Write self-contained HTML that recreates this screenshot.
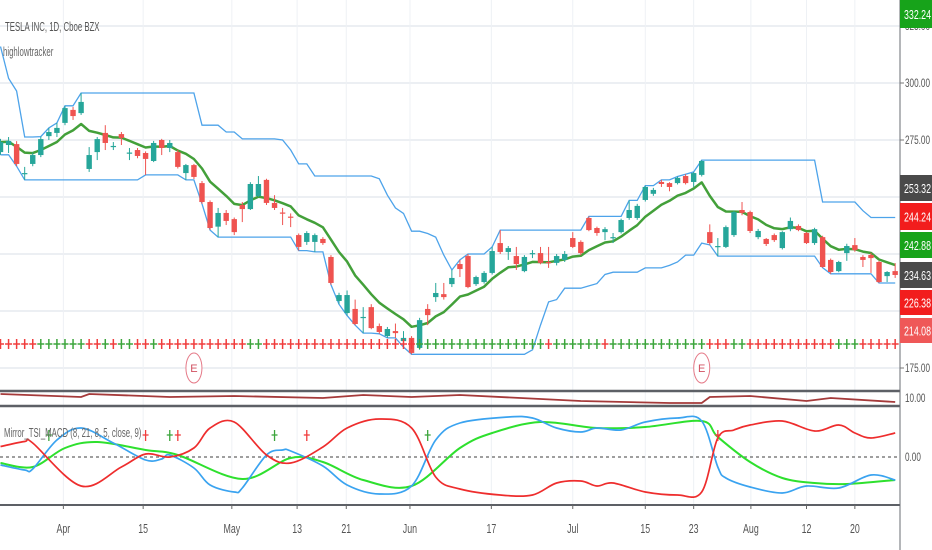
<!DOCTYPE html>
<html><head><meta charset="utf-8"><style>
html,body{margin:0;padding:0;background:#fff;}
svg{display:block;font-family:"Liberation Sans",sans-serif;}
</style></head><body>
<svg id="chart" width="932" height="550" viewBox="0 0 932 550" xmlns="http://www.w3.org/2000/svg">
<g id="grid"></g>
<g id="main"></g>
<g id="sub"></g>
<g id="macd"></g>
<g id="axis"></g>
<text class="ttl" x="5" y="31" font-size="13" fill="#555">TESLA INC, 1D, Cboe BZX</text>
<text class="ttl" x="3" y="56" font-size="13" fill="#666">highlowtracker</text>
<text class="ttl" x="4" y="437" font-size="13" fill="#666">Mirror_TSI_MACD (8, 21, 8, 5, close, 9)</text>
</svg>
<script>
const opens=[269.7,272.8,273.2,260.1,264.5,268.4,276.7,278.1,282.5,288.2,286.8,262.3,269.7,278.1,271.9,277.6,269.1,270.6,269.3,265.8,275,271.5,269.7,260.5,264,256.1,247.8,237,243,240.3,246.5,244.7,250.4,257.5,247.4,243.2,241.4,233.3,230.3,230.3,231.6,223.7,204.4,199.1,200.9,196.9,201.7,193.4,189,191.2,186.8,188.2,183.8,200.9,206.1,207.4,211.8,220.6,224.1,211.8,212.7,216.7,229.8,225.9,224.1,217.5,225,225.4,221.5,221.1,222.4,232,230.3,240.8,236.4,234.6,232,234.6,240.8,240.8,248.7,251.4,256.6,256.1,256.1,259.2,256.6,259.7,234.6,228.1,228.1,233.3,244.3,243.4,232.4,231.6,233.3,227.6,235.9,237.3,234.2,229.8,232.4,222.4,217.5,225.4,228.9,223.7,224.6,221.5,215.3,217.5];
const highs=[275.5,276.3,274.5,263.2,269.5,276.5,280.3,282.5,290,289.5,295.6,271.9,276.3,281.5,274.1,278.5,271.5,271.5,270,274.6,275.5,275,270.6,264.5,264.5,257,248.5,245.2,244.3,241,247.8,256.5,259.2,258,250.8,245.2,242.8,234,235,234,232.4,224.5,208,209,205,201.7,203,194.5,193,194.5,191.2,189,197,203,212.3,212.3,218,222.4,225,215.5,217.5,228.1,235.5,228.5,228.1,224.5,226.7,228.1,228.1,225,226.3,234.6,231,241.5,237,236.8,234.2,240.5,248.5,247,255,254,257.5,256.5,259,260,261,266.2,238,232,237.5,244,247.8,244,236,232,234,235,241,238,234.6,236.5,233,223,222,229.5,232,224.5,225.5,222,217.5,221];
const lows=[268.5,269.3,263.5,257.5,263.5,267.5,275,276.3,281.5,283.8,286,261,266.2,270.6,270.6,272.8,266.2,267,259.7,265.3,268.4,269.7,262.5,257.5,257.9,247,235.5,232.4,237.7,233.3,239,244.3,250,246.5,244.3,237.7,236.8,226.5,229,225.9,229,211.5,203,198,193.8,190.3,192,190,188.2,188.2,184.2,181,183,193.8,204,205,210.5,214.9,210,211,212,216,225,222.4,218,217,223.2,220.5,218.9,220,221.5,227.6,224.5,235,233,231.1,229.8,234,240,240,248,250.5,254.4,252.5,255.5,255.5,254.4,259,229,224.1,227.6,232.5,242,234.2,231.5,228.5,230.3,227,235,235,229.4,229,219,216.3,217,222,226,219.3,216.7,212.3,212.7,214.5];
const closes=[274.1,274.6,264.5,260.5,268.4,275.4,278.5,280.3,289,285.5,291.7,268.4,275.4,273.7,272.4,275.9,269.5,268,266.7,273.7,271.5,273.7,263.2,264,258.8,247.8,236.4,243,239.5,234.6,244.7,255.7,255.7,247.4,245.2,242.8,241,228.1,234.2,233.3,229.8,212.3,207,207,194.3,197.4,192.5,190.8,192.1,190.3,188.2,181.6,196,198.2,207.9,206.1,214.5,218.4,210.5,214.9,216.7,226.3,225.9,227.6,220.6,223.7,225.4,221.1,221.1,224.1,225,228.1,225.4,235.5,234.2,235.9,232.4,239.9,244.3,246.1,254.4,253.1,255.7,254.4,258.4,256.1,260.5,265.8,229.8,228.5,236.8,243.4,243,235.1,235.1,229.4,231.1,234.6,239.5,235.5,229.8,235.9,219.3,217.1,221.5,228.5,226.7,222.4,223.2,212.7,217.1,215.8];
const upperPre=[316,302,296.5];
const signalUp=[0,0,0,0,0,1,1,1,1,1,1,0,0,1,0,1,1,0,0,1,0,0,0,0,0,0,0,0,0,0,0,1,1,0,0,0,0,0,0,0,0,0,0,0,0,0,0,0,0,0,0,0,1,1,1,1,1,1,1,1,1,1,1,1,1,1,1,1,0,1,1,1,1,1,1,0,1,1,1,1,1,1,1,1,1,1,1,1,0,0,0,1,1,0,0,0,0,0,0,0,0,0,0,0,1,1,1,0,0,0,0,0];
const earningsIdx=[24,87];
const redIdx=[0,3,4,10,15,18,21,24,26,29,33,36,40,43,47,51,54,57,62,66,69,72,74,76,80,84,87,89,91,93,97,101,104,106,108,111];
const redVal=[0.21,0.31,0.28,-0.58,-0.2,0.06,0,0.18,0.58,0.7,0.04,-0.12,0.2,0.58,0.76,0.58,-0.4,-0.64,-0.76,-0.76,-0.52,-0.48,-0.58,-0.52,-0.7,-0.76,-0.7,0.38,0.54,0.64,0.72,0.52,0.64,0.48,0.38,0.48];
const blueIdx=[0,3,4,7,10,14,18,20,21,24,26,29,30,33,35,36,40,43,47,51,54,57,63,66,69,72,74,77,80,84,87,89,90,93,97,100,104,108,111];
const blueVal=[-0.16,-0.26,-0.24,0.34,0.58,0.28,-0.06,-0.04,0.04,-0.22,-0.56,-0.7,-0.62,0.04,0.14,0.12,-0.18,-0.56,-0.74,-0.58,0.34,0.68,0.8,0.78,0.58,0.5,0.58,0.54,0.7,0.78,0.72,-0.2,-0.42,-0.6,-0.72,-0.58,-0.62,-0.36,-0.46];
const greenIdx=[0,4,8,12,18,22,30,36,40,45,51,57,61,67,74,80,87,89,93,97,101,105,111];
const greenVal=[-0.12,-0.2,0.18,0.3,0.14,0.04,-0.44,-0.02,-0.1,-0.46,-0.58,0.18,0.48,0.7,0.58,0.6,0.72,0.4,-0.1,-0.42,-0.52,-0.54,-0.46];
const macdSigIdx=[6,18,21,22,34,38,53,89];
const macdSigUp=[1,0,1,0,1,0,1,0];
const ratioIdx=[0,10,11,21,29,40,45,51,57,72,83,87,88,93,100,103,111];
const ratioVal=[12,10.5,12,10.5,11,10,11.5,10.5,11.5,8.5,7.5,7.5,10.5,11,8.5,10,8];
const priceTicks=[325,300,275,175];
const dateLabels=["Apr","15","May","13","21","Jun","17","Jul","15","23","Aug","12","20"];
const dateIdx=[7.8,17.7,28.7,36.8,42.9,50.8,60.9,71,80,86,93.1,100,106];
const lastLabels=["332.24","253.32","244.24","242.88","234.63","226.38","214.08"];
const lastColors=["#17a31a","#4a4a4a","#f21d1d","#17a31a","#4a4a4a","#f21d1d","#ef5858"];

const NS="http://www.w3.org/2000/svg";
function mk(tag,attrs,parent){const e=document.createElementNS(NS,tag);for(const k in attrs)e.setAttribute(k,attrs[k]);parent.appendChild(e);return e;}
const X=i=>0.5+i*8.06;
const Y=p=>26+(325-p)*2.28;
const MY=v=>457-v*50;
const RY=v=>398-(v-10)*2;
const grid=document.getElementById('grid'),main=document.getElementById('main'),sub=document.getElementById('sub'),macd=document.getElementById('macd'),axis=document.getElementById('axis');

[325,300,275,250,225,200,175].forEach(p=>{
  const l=mk('line',{x1:0,x2:900,y1:Y(p),y2:Y(p),stroke:'#e6eaef','stroke-width':1.5},grid);
  
  
});
dateIdx.forEach(d=>{
  const l=mk('line',{x1:X(d),x2:X(d),y1:0,y2:505,stroke:'#eef1f5','stroke-width':1},grid);
  
  
});

const n=closes.length,up=[],lo=[],ema=[];
for(let i=0;i<n;i++){let h=-1e9,l=1e9;for(let j=Math.max(0,i-14);j<=i;j++){h=Math.max(h,highs[j]);l=Math.min(l,lows[j]);}
  if(i<upperPre.length)h=Math.max(h,upperPre[i]);up.push(h);lo.push(l);
  ema.push(i===0?closes[0]:ema[i-1]+(closes[i]-ema[i-1])*2/9);}
function poly(vals,idx,fy,attrs,parent,name){
  const pts=vals.map((v,k)=>X(idx?idx[k]:k).toFixed(1)+','+fy(v).toFixed(1)).join(' ');
  const e=mk('polyline',Object.assign({points:pts,fill:'none'},attrs),parent);
  
  
  return e;}
function smooth(vals,idx,fy,attrs,parent,name){
  const P=vals.map((v,k)=>[X(idx[k]),fy(v)]);
  let d='M'+P[0][0].toFixed(1)+','+P[0][1].toFixed(1);
  for(let k=0;k<P.length-1;k++){
    const p0=P[Math.max(0,k-1)],p1=P[k],p2=P[k+1],p3=P[Math.min(P.length-1,k+2)];
    const c1=[p1[0]+(p2[0]-p0[0])/6,p1[1]+(p2[1]-p0[1])/6],c2=[p2[0]-(p3[0]-p1[0])/6,p2[1]-(p3[1]-p1[1])/6];
    d+=' C'+c1.map(v=>v.toFixed(1)).join(',')+' '+c2.map(v=>v.toFixed(1)).join(',')+' '+p2.map(v=>v.toFixed(1)).join(',');
  }
  const e=mk('path',Object.assign({d:d,fill:'none'},attrs),parent);
  
  
  return e;}
poly(up,null,Y,{stroke:'#4da3ea','stroke-width':1.3},main,'upper-band');
poly(lo,null,Y,{stroke:'#4da3ea','stroke-width':1.3},main,'lower-band');
poly(ema,null,Y,{stroke:'#43a03a','stroke-width':2.5,'stroke-linejoin':'round'},main,'moving-average');

for(let i=0;i<n;i++){
  const upC=closes[i]>=opens[i],col=upC?'#26a69a':'#ef5350';
  const g=mk('g',{},main);
  
  
  mk('line',{x1:X(i),x2:X(i),y1:Y(highs[i]),y2:Y(lows[i]),stroke:col,'stroke-width':1},g);
  const t=Y(Math.max(opens[i],closes[i])),b=Y(Math.min(opens[i],closes[i]));
  mk('rect',{x:X(i)-2.7,y:t,width:5.4,height:Math.max(1.2,b-t),fill:col},g);
}
for(let i=0;i<n;i++){
  const col=signalUp[i]?'#3ca53c':'#f03c3c',g=mk('g',{stroke:col,'stroke-width':1.5},main);
  
  
  mk('line',{x1:X(i)-3.5,x2:X(i)+3.5,y1:344,y2:344},g);mk('line',{x1:X(i),x2:X(i),y1:339,y2:349},g);
}
earningsIdx.forEach(i=>{
  const g=mk('g',{},main);
  
  
  mk('ellipse',{cx:X(i),cy:368,rx:8,ry:15,fill:'#fff',stroke:'#e57a88','stroke-width':1},g);
  const t=mk('text',{x:X(i),y:372,'font-size':11,fill:'#d05060','text-anchor':'middle'},g);t.textContent='E';
});

poly(ratioVal,ratioIdx,RY,{stroke:'#a53a3a','stroke-width':1.8},sub,'ratio-line');

const z=mk('line',{x1:0,x2:900,y1:457,y2:457,stroke:'#666','stroke-width':1.2,'stroke-dasharray':'3,3'},macd);


smooth(greenVal,greenIdx,MY,{stroke:'#2ee02e','stroke-width':2},macd,'signal-line');
smooth(blueVal,blueIdx,MY,{stroke:'#3aa3f0','stroke-width':1.7},macd,'tsi-line');
smooth(redVal,redIdx,MY,{stroke:'#ee2d2d','stroke-width':1.7},macd,'mirror-line');
macdSigIdx.forEach((i,k)=>{
  const g=mk('g',{stroke:macdSigUp[k]?'#3ca53c':'#f03c3c','stroke-width':1.3},macd);
  
  
  mk('line',{x1:X(i)-3,x2:X(i)+3,y1:435,y2:435},g);mk('line',{x1:X(i),x2:X(i),y1:430,y2:441},g);
});

[[391,2.5],[406,2.5],[505,2]].forEach(s=>{
  const l=mk('line',{x1:0,x2:900,y1:s[0],y2:s[0],stroke:'#5d6066','stroke-width':s[1]},axis);
  
  
});
const ax=mk('line',{x1:900,x2:900,y1:0,y2:550,stroke:'#6a6d73','stroke-width':1},axis);


function lbl(txt,x,y,opt){const t=mk('text',Object.assign({x:x,y:y,'font-size':12,fill:'#555','class':'cond'},opt||{}),axis);t.textContent=txt;return t;}
priceTicks.forEach(p=>{
  mk('line',{x1:900,x2:904,y1:Y(p),y2:Y(p),stroke:'#777'},axis);
  const t=lbl(p.toFixed(2),905,Y(p)+4);
  
  
});
let t=lbl('10.00',905,402);


t=lbl('0.00',905,461);


const boxTops=[0,175,203,232,262,290,318],boxH=[28,26,27,26,26,25,25];
lastLabels.forEach((s,k)=>{
  const g=mk('g',{},axis);
  
  
  mk('rect',{x:900,y:boxTops[k],width:32,height:boxH[k],fill:lastColors[k]},g);
  const tt=mk('text',{x:904,y:boxTops[k]+boxH[k]/2+5,'font-size':13,fill:'#fff','class':'cond'},g);tt.textContent=s;
});
dateLabels.forEach((s,k)=>{
  mk('line',{x1:X(dateIdx[k]),x2:X(dateIdx[k]),y1:505,y2:509,stroke:'#666'},axis);
  const tt=lbl(s,X(dateIdx[k]),533,{'text-anchor':'middle','font-size':13});
  
  
});
document.querySelectorAll('text.cond').forEach(e=>{
  const w=e.getComputedTextLength();e.setAttribute('textLength',(w*0.68).toFixed(1));e.setAttribute('lengthAdjust','spacingAndGlyphs');});
document.querySelectorAll('text.ttl').forEach(e=>{
  const w=e.getComputedTextLength();e.setAttribute('textLength',(w*0.6).toFixed(1));e.setAttribute('lengthAdjust','spacingAndGlyphs');});
</script>
</body></html>
